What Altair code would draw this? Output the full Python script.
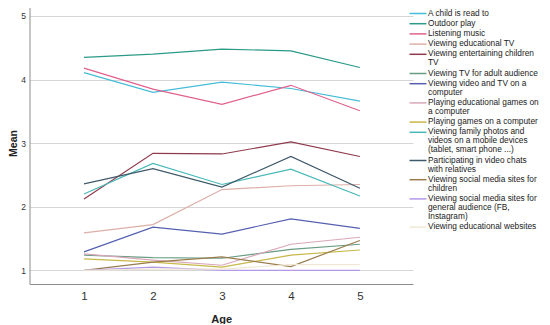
import altair as alt
import pandas as pd

ages = [1, 2, 3, 4, 5]

series = [
    "A child is read to",
    "Outdoor play",
    "Listening music",
    "Viewing educational TV",
    "Viewing entertaining children|TV",
    "Viewing TV for adult audience",
    "Viewing video and TV on a|computer",
    "Playing educational games on|a computer",
    "Playing games on a computer",
    "Viewing family photos and|videos on a mobile devices|(tablet, smart phone ...)",
    "Participating in video chats|with relatives",
    "Viewing social media sites for|children",
    "Viewing social media sites for|general audience (FB,|Instagram)",
    "Viewing educational websites",
]

read_to = [4.11, 3.80, 3.96, 3.86, 3.66]
outdoor = [4.35, 4.40, 4.48, 4.45, 4.19]
music = [4.18, 3.85, 3.61, 3.91, 3.51]
edu_tv = [1.59, 1.72, 2.27, 2.33, 2.35]
ent_tv = [2.12, 2.84, 2.83, 3.02, 2.79]
adult_tv = [1.24, 1.20, 1.19, 1.33, 1.41]
video_pc = [1.29, 1.68, 1.57, 1.81, 1.66]
edu_games = [1.26, 1.16, 1.08, 1.41, 1.52]
games_pc = [1.18, 1.13, 1.05, 1.24, 1.32]
photos = [2.20, 2.68, 2.35, 2.59, 2.17]
video_chat = [2.36, 2.60, 2.31, 2.79, 2.29]
social_kids = [1.00, 1.13, 1.21, 1.06, 1.47]
social_gen = [1.00, 1.05, 1.00, 1.00, 1.00]
edu_web = [1.00, 1.02, 1.02, 1.09, 1.09]

all_values = [read_to, outdoor, music, edu_tv, ent_tv, adult_tv, video_pc,
              edu_games, games_pc, photos, video_chat, social_kids,
              social_gen, edu_web]

palette = ["#45bcd8", "#2b9a88", "#e0608e", "#dcb0a8", "#8e3a4c", "#6a9c84",
           "#5560b0", "#d8a8b8", "#c8b848", "#48b8b8", "#3e5a6a", "#9a7c4c",
           "#b498e8", "#efe8d4"]

rows = []
for name, vals in zip(series, all_values):
    for a, v in zip(ages, vals):
        rows.append({"Series": name, "Age": a, "Mean": v})
df = pd.DataFrame(rows)

FONT = "Liberation Sans"

chart = alt.Chart(df).mark_line(strokeWidth=1.2).encode(
    x=alt.X("Age:Q",
            scale=alt.Scale(domain=[0.21, 5.77], nice=False, zero=False),
            axis=alt.Axis(values=ages, title="Age", grid=False, ticks=False,
                          labelPadding=6, labelFontSize=11.5, labelColor="#333333",
                          labelFont=FONT, titleFont=FONT, titleFontSize=11,
                          titleFontWeight="bold", titleColor="#222222",
                          titlePadding=12, domainColor="#8c8c8c")),
    y=alt.Y("Mean:Q",
            scale=alt.Scale(domain=[0.785, 5.22], nice=False, zero=False),
            axis=alt.Axis(values=[1, 2, 3, 4, 5], title="Mean", grid=True,
                          ticks=False, labelPadding=4, labelFontSize=8.5,
                          labelColor="#333333", labelFont=FONT, titleFont=FONT,
                          titleFontSize=10.5, titleFontWeight="bold",
                          titleColor="#222222", titlePadding=2,
                          gridColor="#d6d6d6", domainColor="#8c8c8c")),
    color=alt.Color("Series:N",
                    scale=alt.Scale(domain=series, range=palette),
                    sort=series,
                    legend=alt.Legend(
                        title=None, orient="none", legendX=383.5, legendY=6.5,
                        symbolType="M-2,0H2", symbolSize=72, symbolStrokeWidth=1.5,
                        labelFontSize=8.3, labelFont=FONT, labelColor="#1a1a1a",
                        labelOffset=5.0, labelLimit=0, rowPadding=1.2,
                        labelExpr="split(datum.label, '|')",
                    )),
    detail="Series:N",
).properties(
    width=383.5,
    height=282,
    autosize=alt.AutoSizeParams(type="none"),
    padding={"left": 21.5, "top": -6, "right": 129, "bottom": 40},
).configure(
    style={"guide-label": {"lineHeight": 9}}
).configure_view(stroke=None)

chart.save("out.html", embed_options={"renderer": "svg", "actions": False})
